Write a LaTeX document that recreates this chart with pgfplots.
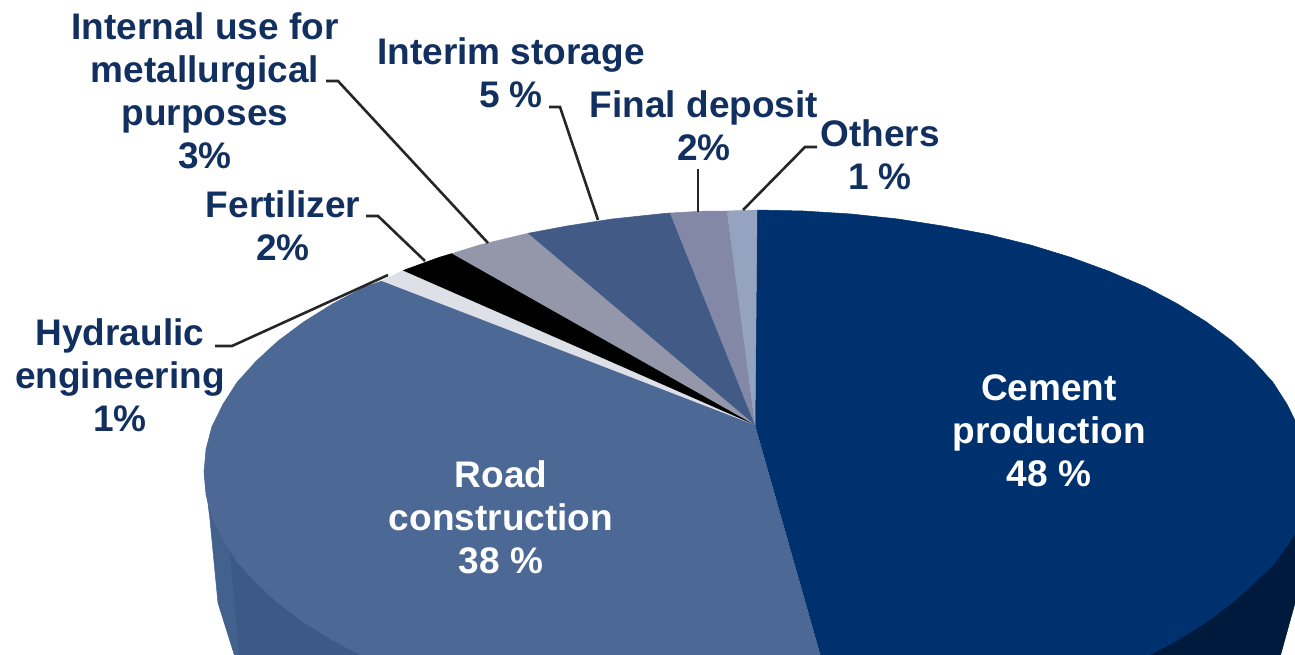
\documentclass[border=0pt]{standalone}
\usepackage{pgfplots}
\pgfplotsset{compat=1.18}
\usepackage{fontspec}
\setmainfont{Liberation Sans}
\definecolor{cement}{HTML}{00316F}
\definecolor{cementwall}{HTML}{001A3E}
\definecolor{road}{HTML}{4C6894}
\definecolor{roadwall}{HTML}{42618C}
\definecolor{roadwalldark}{HTML}{3C5A85}
\definecolor{hydraulic}{HTML}{DDE0E6}
\definecolor{fertilizer}{HTML}{000000}
\definecolor{internal}{HTML}{9497A9}
\definecolor{interim}{HTML}{425B86}
\definecolor{finaldep}{HTML}{8288A6}
\definecolor{others}{HTML}{95A3C1}
\definecolor{labeltext}{HTML}{12305F}
\pgfplotsset{
  slab/.style={no markers,fill=#1,draw=#1,line width=0.5pt,forget plot},
  leader/.style={no markers,draw=black!85,line width=2.6pt,line join=miter,forget plot},
}
\tikzset{
  lbl/.style={font=\fontsize{37}{43}\selectfont\bfseries,align=center,inner sep=0pt,text=labeltext},
  lblw/.style={lbl,text=white}
}
\begin{document}
\begin{tikzpicture}
\useasboundingbox (0,0) rectangle (1295pt,655pt);
\begin{axis}[
  at={(0,0)},anchor=south west,
  scale only axis,width=1295pt,height=655pt,
  xmin=0,xmax=1295,ymin=0,ymax=655,y dir=reverse,
  hide axis,clip=true,
]
% side walls of the disc
\addplot[slab=cementwall] coordinates {(1100,500) (1310,470) (1310,560) (1295,603) (1280,657) (1140,657)};
\addplot[slab=roadwall] coordinates {(204,470) (210,520) (218,603) (235,657) (370,657) (300,500)};
\addplot[slab=roadwalldark] coordinates {(223,533) (230,553) (240,657) (370,657) (300,560)};
% top face: Road construction 38 %
\addplot[slab=road] coordinates {(755,425) (382,281) (365,286.7) (333,303.6) (304,321.7) (278,341) (256,361.3) (237,382.4) (223,404.2) (212,426.5) (206,449.2) (204,472) (206,494.8) (212,517.5) (223,539.8) (237,561.6) (256,582.7) (278,603) (304,622.3) (333,640.4) (365,657.3) (821,657.3)};
% Cement production 48 %
\addplot[slab=cement] coordinates {(755,425) (757,210) (803,211) (851,214) (898,219) (943,226) (988,234.5) (1030.5,245) (1071,257.4) (1109,271.3) (1145,286.7) (1177,303.6) (1206,321.7) (1232,341) (1254,361.3) (1273,382.4) (1287,404.2) (1298,426.5) (1304,449.2) (1306,472) (1304,512) (1298,529) (1287,546) (1273,565) (1254,583) (1232,603) (1206,622.3) (1177,640.4) (1145,657.3) (821,657.3)};
% Hydraulic engineering 1 %
\addplot[slab=hydraulic] coordinates {(755,425) (403,270.5) (382,281)};
% Fertilizer 2 %
\addplot[slab=fertilizer] coordinates {(755,425) (452,253.5) (439,257.4) (403,270.5)};
% Internal use 3 %
\addplot[slab=internal] coordinates {(755,425) (528,233.3) (479.5,245) (452,253.5)};
% Interim storage 5 %
\addplot[slab=interim] coordinates {(755,425) (670,213) (659,214) (612,219) (567,226) (528,233.3)};
% Final deposit 2 %
\addplot[slab=finaldep] coordinates {(755,425) (727,211) (707,211) (670,213)};
% Others 1 %
\addplot[slab=others] coordinates {(755,425) (757,210) (727,211)};
% leader lines
\addplot[leader] coordinates {(326,81) (338,81) (488,243)};
\addplot[leader] coordinates {(366,216) (378,216) (425,261)};
\addplot[leader] coordinates {(549,107) (560,107) (598,220)};
\addplot[leader] coordinates {(698,169) (698,212)};
\addplot[leader] coordinates {(817,147) (805,147) (743,210)};
\addplot[leader] coordinates {(215,346) (232,346) (388,275)};
% labels
\node[lbl] at (axis cs:205,91) {Internal use for\\metallurgical\\purposes\\3\%};
\node[lbl] at (axis cs:511,73) {Interim storage\\5 \%};
\node[lbl] at (axis cs:704,126) {Final deposit\\2\%};
\node[lbl] at (axis cs:880,155) {Others\\1 \%};
\node[lbl] at (axis cs:283,226) {Fertilizer\\2\%};
\node[lbl] at (axis cs:120,375.5) {Hydraulic\\engineering\\1\%};
\node[lblw] at (axis cs:1049,431) {Cement\\production\\48 \%};
\node[lblw] at (axis cs:501,517) {Road\\construction\\38 \%};
\end{axis}
\end{tikzpicture}
\end{document}
